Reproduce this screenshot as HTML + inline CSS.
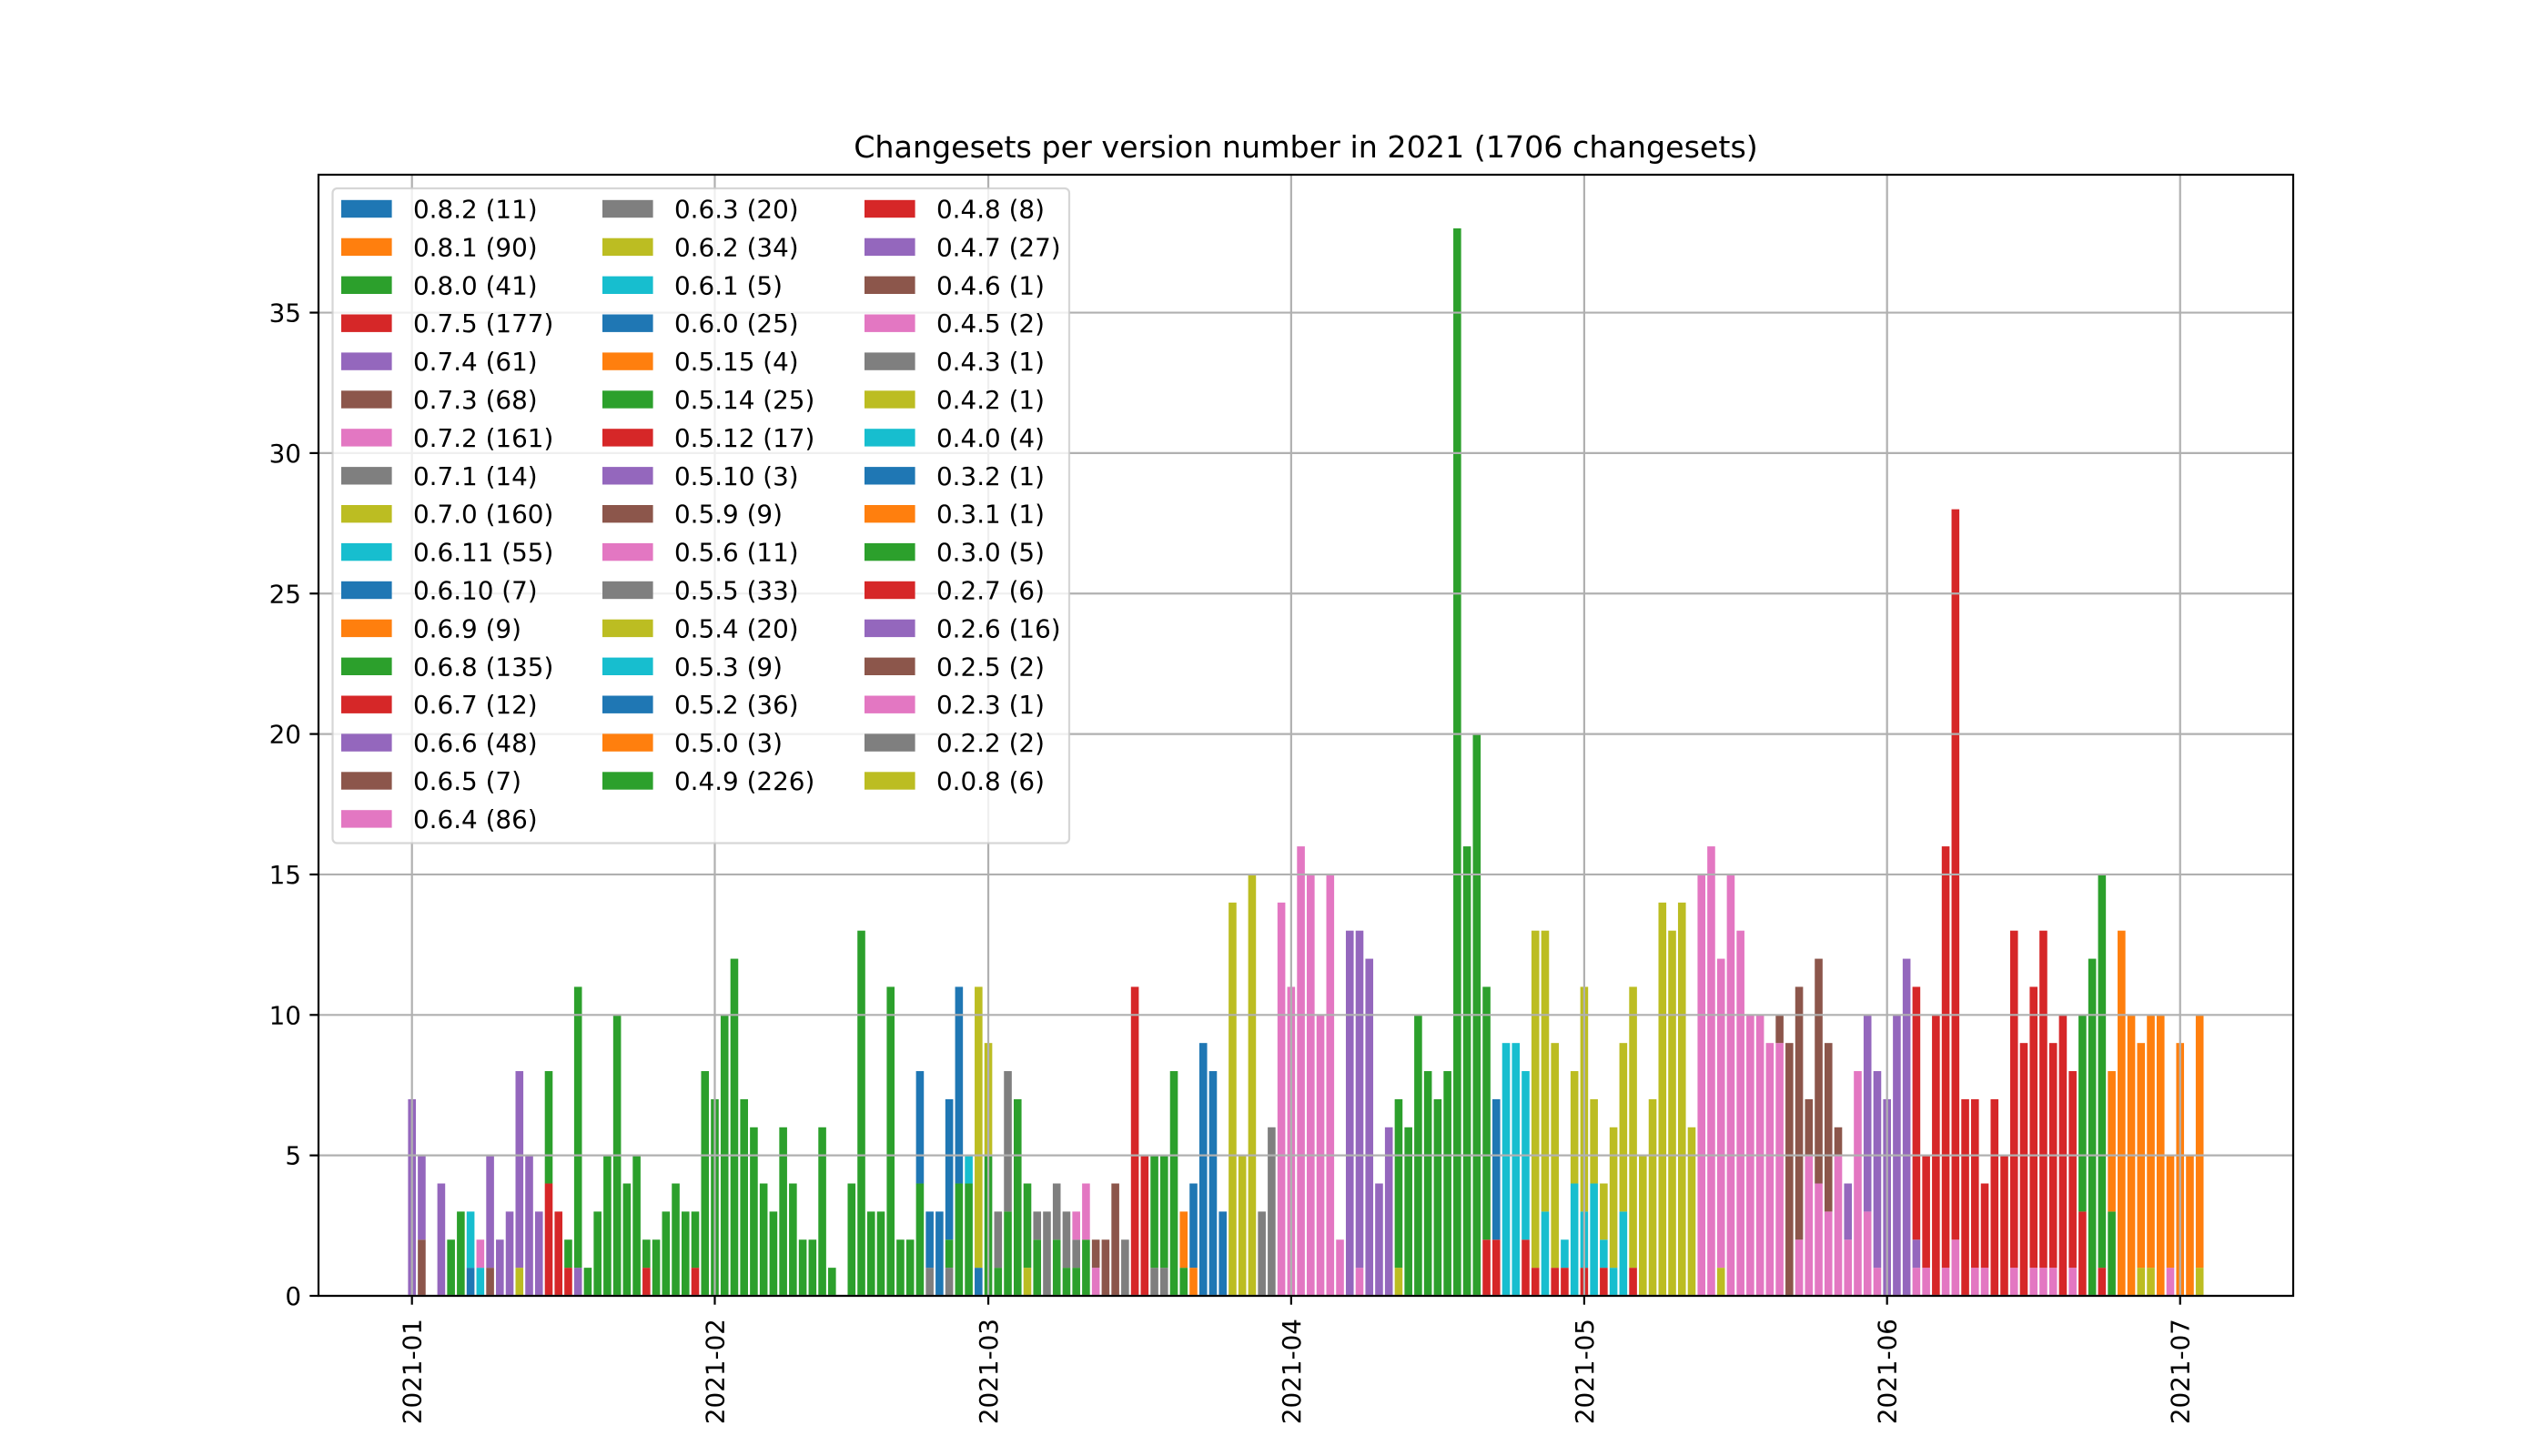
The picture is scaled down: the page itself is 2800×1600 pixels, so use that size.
<!DOCTYPE html>
<html><head><meta charset="utf-8"><title>Changesets per version number in 2021</title>
<style>html,body{margin:0;padding:0;background:#fff}svg{display:block;font-family:"DejaVu Sans","Liberation Sans",sans-serif}</style>
</head><body>
<svg id="chart" xmlns="http://www.w3.org/2000/svg" width="2800" height="1600" viewBox="0 0 2800 1600">
<rect width="2800" height="1600" fill="#fff"/>
<text x="1435" y="173" font-size="33.3" text-anchor="middle" fill="#000">Changesets per version number in 2021 (1706 changesets)</text>
<g id="bars"></g>
<g id="grid"></g>
<g id="axes"></g>
<g id="legend"></g>
</svg>
<script>
const versions = ["0.8.2","0.8.1","0.8.0","0.7.5","0.7.4","0.7.3","0.7.2","0.7.1","0.7.0","0.6.11","0.6.10","0.6.9","0.6.8","0.6.7","0.6.6","0.6.5","0.6.4","0.6.3","0.6.2","0.6.1","0.6.0","0.5.15","0.5.14","0.5.12","0.5.10","0.5.9","0.5.6","0.5.5","0.5.4","0.5.3","0.5.2","0.5.0","0.4.9","0.4.8","0.4.7","0.4.6","0.4.5","0.4.3","0.4.2","0.4.0","0.3.2","0.3.1","0.3.0","0.2.7","0.2.6","0.2.5","0.2.3","0.2.2","0.0.8"];
const counts = [11,90,41,177,61,68,161,14,160,55,7,9,135,12,48,7,86,20,34,5,25,4,25,17,3,9,11,33,20,9,36,3,226,8,27,1,2,1,1,4,1,1,5,6,16,2,1,2,6];
const yTicks = [0,5,10,15,20,25,30,35];
const xTickDays = [0,31,59,90,120,151,181];
const xTickLabels = ["2021-01","2021-02","2021-03","2021-04","2021-05","2021-06","2021-07"];
// day offset from 2021-01-01
const days = [0,1,3,4,5,6,7,8,9,10,11,12,13,14,15,16,17,18,19,20,21,22,23,24,25,26,27,28,29,30,31,32,33,34,35,36,37,38,39,40,41,42,43,45,46,47,48,49,50,51,52,53,54,55,56,57,58,59,60,61,62,63,64,65,66,67,68,69,70,71,72,73,74,75,76,77,78,79,80,81,82,83,84,85,86,87,88,89,90,91,92,93,94,95,96,97,98,99,100,101,102,103,104,105,106,107,108,109,110,111,112,113,114,115,116,117,118,119,120,121,122,123,124,125,126,127,128,129,130,131,132,133,134,135,136,137,138,139,140,141,142,143,144,145,146,147,148,149,150,151,152,153,154,155,156,157,158,159,160,161,162,163,164,165,166,167,168,169,170,171,172,173,174,175,176,177,178,179,180,181,182,183];
const stacks = [
[["0.4.7",7]],[["0.4.6",2],["0.4.7",3]],[["0.4.7",4]],[["0.4.9",2]],[["0.4.9",3]],[["0.3.2",1],["0.4.0",2]],[["0.4.0",1],["0.4.5",1]],[["0.2.5",1],["0.4.7",4]],[["0.4.7",2]],[["0.4.7",3]],
[["0.4.2",1],["0.4.7",7]],[["0.4.7",5]],[["0.4.7",3]],[["0.4.8",4],["0.4.9",4]],[["0.4.8",3]],[["0.4.8",1],["0.4.9",1]],[["0.4.7",1],["0.4.9",10]],[["0.4.9",1]],[["0.4.9",3]],[["0.4.9",5]],
[["0.4.9",10]],[["0.4.9",4]],[["0.4.9",5]],[["0.4.8",1],["0.4.9",1]],[["0.4.9",2]],[["0.4.9",3]],[["0.4.9",4]],[["0.4.9",3]],[["0.4.8",1],["0.4.9",2]],[["0.4.9",8]],
[["0.4.9",7]],[["0.4.9",10]],[["0.4.9",12]],[["0.4.9",7]],[["0.4.9",6]],[["0.4.9",4]],[["0.4.9",3]],[["0.4.9",6]],[["0.4.9",4]],[["0.4.9",2]],
[["0.4.9",2]],[["0.4.9",6]],[["0.4.9",1]],[["0.4.9",4]],[["0.4.9",13]],[["0.4.9",3]],[["0.4.9",3]],[["0.4.9",11]],[["0.4.9",2]],[["0.4.9",2]],
[["0.5.14",4],["0.5.2",4]],[["0.5.5",1],["0.5.2",2]],[["0.5.2",3]],[["0.5.5",1],["0.5.14",1],["0.5.2",5]],[["0.5.14",4],["0.5.2",7]],[["0.5.14",4],["0.5.3",1]],[["0.5.2",1],["0.5.4",10]],[["0.5.14",5],["0.5.4",4]],[["0.5.14",1],["0.5.5",2]],[["0.5.14",3],["0.5.5",5]],
[["0.5.14",7]],[["0.5.4",1],["0.5.14",3]],[["0.5.14",2],["0.5.5",1]],[["0.5.5",3]],[["0.5.14",2],["0.5.5",2]],[["0.5.14",1],["0.5.5",2]],[["0.5.14",1],["0.5.5",1],["0.5.6",1]],[["0.5.14",2],["0.5.6",2]],[["0.5.6",1],["0.5.9",1]],[["0.5.9",2]],
[["0.5.9",4]],[["0.5.5",2]],[["0.5.12",11]],[["0.5.12",5]],[["0.6.3",1],["0.5.14",4]],[["0.6.3",1],["0.5.14",4]],[["0.5.14",8]],[["0.5.14",1],["0.5.15",2]],[["0.5.15",1],["0.6.0",3]],[["0.6.0",9]],
[["0.6.0",8]],[["0.6.0",3]],[["0.6.2",14]],[["0.6.2",5]],[["0.6.2",15]],[["0.6.3",3]],[["0.6.3",6]],[["0.6.4",14]],[["0.6.4",11]],[["0.6.4",16]],
[["0.6.4",15]],[["0.6.4",10]],[["0.6.4",15]],[["0.6.4",2]],[["0.6.6",13]],[["0.6.4",1],["0.6.6",12]],[["0.6.6",12]],[["0.6.6",4]],[["0.6.6",6]],[["0.6.2",1],["0.6.8",6]],
[["0.6.8",6]],[["0.6.8",10]],[["0.6.8",8]],[["0.6.8",7]],[["0.6.8",8]],[["0.6.8",38]],[["0.6.8",16]],[["0.6.8",20]],[["0.6.7",2],["0.6.8",9]],[["0.6.7",2],["0.6.10",5]],
[["0.6.11",9]],[["0.6.11",9]],[["0.6.7",2],["0.6.11",6]],[["0.6.7",1],["0.7.0",12]],[["0.6.11",3],["0.7.0",10]],[["0.6.7",1],["0.7.0",8]],[["0.6.7",1],["0.6.11",1]],[["0.6.11",4],["0.7.0",4]],[["0.6.7",1],["0.6.11",2],["0.7.0",8]],[["0.6.11",4],["0.7.0",3]],
[["0.6.7",1],["0.6.11",1],["0.7.0",2]],[["0.6.11",1],["0.7.0",5]],[["0.6.11",3],["0.7.0",6]],[["0.6.7",1],["0.7.0",10]],[["0.7.0",5]],[["0.7.0",7]],[["0.7.0",14]],[["0.7.0",13]],[["0.7.0",14]],[["0.7.0",6]],
[["0.7.2",15]],[["0.7.2",16]],[["0.7.0",1],["0.7.2",11]],[["0.7.2",15]],[["0.7.2",13]],[["0.7.2",10]],[["0.7.2",10]],[["0.7.2",9]],[["0.7.2",9],["0.7.3",1]],[["0.7.3",9]],
[["0.7.2",2],["0.7.3",9]],[["0.7.2",5],["0.7.3",2]],[["0.7.2",4],["0.7.3",8]],[["0.7.2",3],["0.7.3",6]],[["0.7.2",5],["0.7.3",1]],[["0.7.2",2],["0.7.4",2]],[["0.7.2",8]],[["0.7.2",3],["0.7.4",7]],[["0.7.2",1],["0.7.4",7]],[["0.7.4",7]],
[["0.7.4",10]],[["0.7.4",12]],[["0.7.2",1],["0.7.4",1],["0.7.5",9]],[["0.7.2",1],["0.7.5",4]],[["0.7.5",10]],[["0.7.2",1],["0.7.5",15]],[["0.7.2",2],["0.7.5",26]],[["0.7.5",7]],[["0.7.2",1],["0.7.5",6]],[["0.7.2",1],["0.7.5",3]],
[["0.7.5",7]],[["0.7.5",5]],[["0.7.2",1],["0.7.5",12]],[["0.7.5",9]],[["0.7.2",1],["0.7.5",10]],[["0.7.2",1],["0.7.5",12]],[["0.7.2",1],["0.7.5",8]],[["0.7.5",10]],[["0.7.2",1],["0.7.5",7]],[["0.7.5",3],["0.8.0",7]],
[["0.8.0",12]],[["0.7.5",1],["0.8.0",14]],[["0.8.0",3],["0.8.1",5]],[["0.8.1",13]],[["0.8.1",10]],[["0.7.0",1],["0.8.1",8]],[["0.7.0",1],["0.8.1",9]],[["0.8.1",10]],[["0.7.2",1],["0.8.1",4]],[["0.8.1",9]],
[["0.8.1",5]],[["0.7.0",1],["0.8.1",9]]
];
const palette = ["#1f77b4","#ff7f0e","#2ca02c","#d62728","#9467bd","#8c564b","#e377c2","#7f7f7f","#bcbd22","#17becf"];
const NS = "http://www.w3.org/2000/svg";
const AX = {left:350,right:2520,top:192,bottom:1424};
const xOf = d => 452.7 + 10.735*d;
const yOf = v => 1424 - v*30.87;
const colorOf = v => palette[versions.indexOf(v) % 10];
function mk(tag, attrs, parent){ const e=document.createElementNS(NS,tag); for(const k in attrs) e.setAttribute(k,attrs[k]); parent.appendChild(e); return e; }

const barsG = document.getElementById('bars');
const bw = 0.8*10.735;
days.forEach((d,i)=>{
  let base = 0;
  (stacks[i]||[]).forEach(([ver,val])=>{
    const r = mk('rect',{x:(xOf(d)-bw/2).toFixed(2), y:yOf(base+val).toFixed(2), width:bw.toFixed(2), height:(yOf(base)-yOf(base+val)).toFixed(2), fill:colorOf(ver)}, barsG);
    
    
    base += val;
  });
});

const gridG = document.getElementById('grid');
yTicks.forEach(t=>{
  const l = mk('line',{x1:AX.left,x2:AX.right,y1:yOf(t),y2:yOf(t),stroke:'#b0b0b0','stroke-width':2.2},gridG);
  
  
});
xTickDays.forEach((d,i)=>{
  const l = mk('line',{x1:xOf(d),x2:xOf(d),y1:AX.top,y2:AX.bottom,stroke:'#b0b0b0','stroke-width':2.2},gridG);
  
  
});

const axG = document.getElementById('axes');
const frame = mk('rect',{x:AX.left,y:AX.top,width:AX.right-AX.left,height:AX.bottom-AX.top,fill:'none',stroke:'#000','stroke-width':2.2},axG);


yTicks.forEach(t=>{
  const tk = mk('line',{x1:AX.left-9.7,x2:AX.left,y1:yOf(t),y2:yOf(t),stroke:'#000','stroke-width':2.2},axG);
  
  
  const tx = mk('text',{x:331,y:yOf(t)+10,'font-size':27.8,'text-anchor':'end',fill:'#000'},axG);
  tx.textContent = String(t);
  
  
});
xTickDays.forEach((d,i)=>{
  const tk = mk('line',{x1:xOf(d),x2:xOf(d),y1:AX.bottom,y2:AX.bottom+9.7,stroke:'#000','stroke-width':2.2},axG);
  
  
  const tx = mk('text',{transform:'translate('+(xOf(d)+10)+',1449) rotate(-90)','font-size':27.8,'text-anchor':'end',fill:'#000'},axG);
  tx.textContent = xTickLabels[i];
  
  
});

const legG = document.getElementById('legend');
const box = mk('rect',{x:365.5,y:207,width:809.5,height:719.5,rx:5,fill:'#fff','fill-opacity':0.8,stroke:'#cccccc','stroke-opacity':0.8,'stroke-width':2.2},legG);


const colX = [375,662,950];
const perCol = [17,16,16];
let idx = 0;
for(let c=0;c<3;c++){
  for(let r=0;r<perCol[c];r++){
    if(idx>=versions.length) break;
    const cy = 229.5 + r*41.9;
    const g = mk('g',{},legG);
    
    
    mk('rect',{x:colX[c],y:cy-9.7,width:55.6,height:19.4,fill:palette[idx%10]},g);
    const t = mk('text',{x:colX[c]+79,y:cy+10,'font-size':27.8,fill:'#000'},g);
    t.textContent = versions[idx]+' ('+counts[idx]+')';
    idx++;
  }
}
</script>
</body></html>
